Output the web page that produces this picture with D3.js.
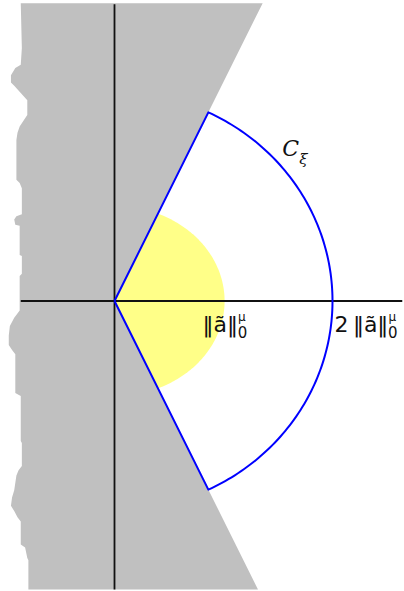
<!DOCTYPE html>
<html>
<head>
<meta charset="utf-8">
<script src="https://cdn.jsdelivr.net/npm/d3@7"></script>
<style>
  body { margin: 0; background: #fff; }
  svg { display: block; }
</style>
</head>
<body>
<div id="chart"></div>
<script>
const width = 404;
const height = 591;

// units: ||a~||_0^mu = 100
const normA = 100;
const coneAngle = 64.5;           // half-opening of the cone, degrees
const yellowRadii = [101, 91];    // yellow region (u, v)
const yTop = 285;
const yBottom = -276;
const axisLeft = -86;
const axisRight = 264;

// ragged left edge of the grey region, top to bottom (u, v)
const edgeU = [-86, -85, -86, -91, -95, -95, -92, -80, -80, -82, -87, -89, -90, -90, -87, -85,
  -85, -90, -92, -91, -87, -87, -85, -85, -87, -87, -92, -96, -97, -97, -94, -91, -91, -86,
  -86, -85, -85, -88, -90, -92, -94, -95, -92, -89, -86, -86, -82, -80, -79, -79];
const edgeV = [285, 242, 226, 223, 216, 209, 206, 192, 178, 175, 167, 161, 154, 116, 113, 108,
  83, 81, 78, 73, 72, 44, 43, 26, 24, -9, -16, -24, -33, -42, -47, -51, -88, -91,
  -134, -136, -158, -162, -167, -181, -188, -196, -201, -207, -211, -233, -236, -246, -248, -276];

const svg = d3.select("#chart")
  .append("svg")
  .attr("width", width)
  .attr("height", height);

const x = d3.scaleLinear().domain([0, 100]).range([114.5, 223.5]);
const y = d3.scaleLinear().domain([0, 100]).range([301, 196.5]);

const slope = Math.tan(coneAngle * Math.PI / 180);
const line = d3.line().x(d => x(d[0])).y(d => y(d[1]));
const angles = d3.range(-coneAngle, coneAngle + 0.01, 1);

// yellow region inside the cone
const [ra, rb] = yellowRadii;
const yellowPts = angles.map(a => {
  const t = a * Math.PI / 180;
  const r = 1 / Math.sqrt((Math.cos(t) / ra) ** 2 + (Math.sin(t) / rb) ** 2);
  return [r * Math.cos(t), r * Math.sin(t)];
});
svg.append("path")
  .attr("d", line([[0, 0]].concat(yellowPts)) + "Z")
  .attr("fill", "#ffff88");

// grey region outside the cone
const grey = edgeU.map((u, i) => [u, edgeV[i]]);
grey.push([-yBottom / slope, yBottom]);
grey.push([0, 0]);
grey.push([yTop / slope, yTop]);
svg.append("path")
  .attr("d", line(grey) + "Z")
  .attr("fill", "#c0c0c0");

// axes
svg.append("line")
  .attr("x1", x(0)).attr("x2", x(0))
  .attr("y1", y(yTop) + 1).attr("y2", y(yBottom))
  .attr("stroke", "#111")
  .attr("stroke-width", 1.8);

svg.append("line")
  .attr("x1", x(axisLeft)).attr("x2", x(axisRight))
  .attr("y1", y(0)).attr("y2", y(0))
  .attr("stroke", "#111")
  .attr("stroke-width", 1.8);

// sector C_xi: radius 2 ||a~||
const R = 2 * normA;
const arcPts = angles.map(a => {
  const t = a * Math.PI / 180;
  return [R * Math.cos(t), R * Math.sin(t)];
});
svg.append("path")
  .attr("d", line([[0, 0]].concat(arcPts, [[0, 0]])))
  .attr("fill", "none")
  .attr("stroke", "#0000ff")
  .attr("stroke-width", 2)
  .attr("stroke-linejoin", "round");

// labels
function normLabel(g, prefix) {
  const t = g.append("text")
    .attr("font-family", "DejaVu Sans")
    .attr("font-size", 22)
    .attr("fill", "#111");
  t.append("tspan").text(prefix + "\u2016a\u0303\u2016");
  t.append("tspan").attr("font-size", 12).attr("dy", -11).text("\u03bc");
  t.append("tspan").attr("font-size", 15).attr("dx", -8).attr("dy", 17).text("0");
  return t;
}

normLabel(svg.append("g").attr("transform", `translate(${x(normA) - 21},${y(0) + 31})`), "");
normLabel(svg.append("g").attr("transform", `translate(${x(R) + 2},${y(0) + 31})`), "2\u2009");

const cl = svg.append("text")
  .attr("x", x(154))
  .attr("y", y(139))
  .attr("font-family", "DejaVu Serif")
  .attr("font-style", "italic")
  .attr("font-size", 22)
  .attr("fill", "#111");
cl.append("tspan").text("C");
cl.append("tspan").attr("font-size", 15).attr("dy", 8).text("\u03be");
</script>
</body>
</html>
